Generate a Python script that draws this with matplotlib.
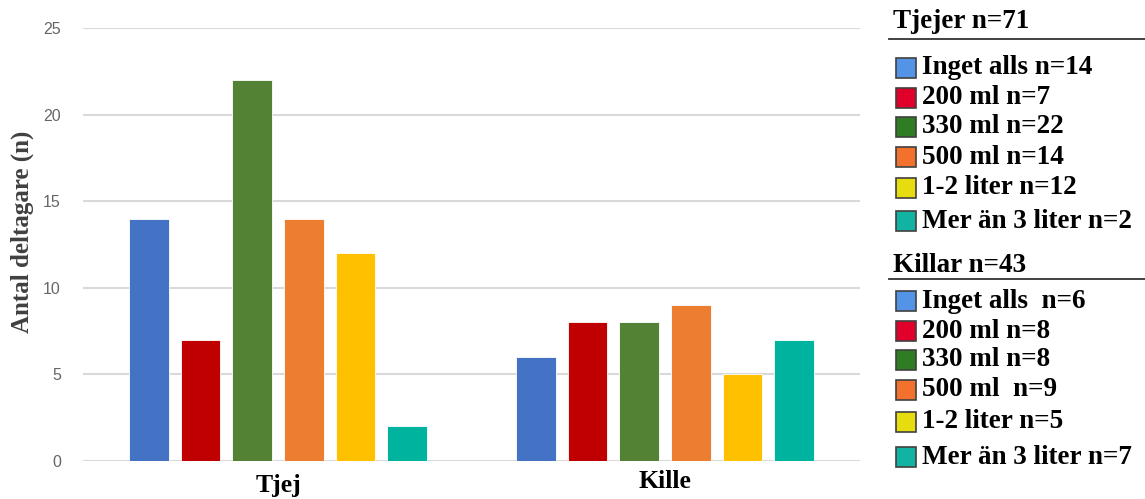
import matplotlib
matplotlib.use("Agg")
import matplotlib.pyplot as plt
from matplotlib.patches import Rectangle
from matplotlib.lines import Line2D
import numpy as np

groups = ["Tjej", "Kille"]
categories = ["Inget alls", "200 ml", "330 ml", "500 ml", "1-2 liter", "Mer än 3 liter"]
tjej_values = [14, 7, 22, 14, 12, 2]
kille_values = [6, 8, 8, 9, 5, 7]
yticks = [0, 5, 10, 15, 20, 25]

tjej_header = "Tjejer n=71"
killar_header = "Killar n=43"
tjej_legend = ["Inget alls n=14", "200 ml n=7", "330 ml n=22", "500 ml n=14",
               "1-2 liter n=12", "Mer än 3 liter n=2"]
killar_legend = ["Inget alls  n=6", "200 ml n=8", "330 ml n=8", "500 ml  n=9",
                 "1-2 liter n=5", "Mer än 3 liter n=7"]

bar_colors = ["#4472C4", "#C00000", "#548235", "#ED7D31", "#FFC000", "#00B39F"]
legend_colors = ["#5494E6", "#E0002A", "#2E7D22", "#F2712C", "#E6DC10", "#12B3A2"]

serif = "Liberation Serif"

fig = plt.figure(figsize=(11.45, 4.99), dpi=100)
ax = fig.add_axes([83 / 1145, 1 - 461 / 499, (860 - 83) / 1145, (461 - 28) / 499])

x = np.arange(len(groups))
width = 0.103
step = 0.1336
series = np.array([tjej_values, kille_values]).T
for i, vals in enumerate(series):
    offs = (i - (len(categories) - 1) / 2) * step
    ax.bar(x + offs, vals, width, color=bar_colors[i], edgecolor="white",
           linewidth=0.6, zorder=3)

ax.set_xlim(-0.504, 1.504)
ax.set_ylim(0, 25)
ax.set_yticks(yticks)
ax.yaxis.grid(True, color="#D9D9D9", linewidth=1.5, zorder=0)
for s in ax.spines.values():
    s.set_visible(False)
ax.tick_params(axis="y", length=0, pad=16, labelsize=11.5, labelcolor="#666666")
for lab in ax.get_yticklabels():
    lab.set_fontfamily("Liberation Sans")
ax.set_xticks([])

# group labels under the bars
group_drops = [9.5, 6.5]
for xi, name, drop in zip(x, groups, group_drops):
    ax.annotate(name, xy=(xi, 0), xycoords=("data", "axes fraction"),
                xytext=(0, -drop), textcoords="offset points",
                ha="center", va="top", fontfamily=serif, fontweight="bold",
                fontsize=18.5, color="black", annotation_clip=False)

fig.text(22 / 1145, 1 - 232 / 499, "Antal deltagare (n)", rotation=90,
         fontfamily=serif, fontweight="bold", fontsize=18, color="#404040",
         ha="center", va="center")

W, H = 1145.0, 499.0


def draw_block(header, labels, header_y, line_y, row_ys):
    fig.text(893 / W, 1 - header_y / H, header, fontfamily=serif, fontweight="bold",
             fontsize=19.5, va="center", ha="left", color="black")
    fig.add_artist(Line2D([889 / W, 1.0], [1 - line_y / H, 1 - line_y / H],
                          color="#333333", linewidth=1.3))
    for lab, col, yy in zip(labels, legend_colors, row_ys):
        fig.add_artist(Rectangle((896 / W, 1 - (yy + 10) / H), 20 / W, 20 / H,
                                 facecolor=col, edgecolor="#404040", linewidth=1.2))
        fig.text(922 / W, 1 - yy / H, lab, fontfamily=serif, fontweight="bold",
                 fontsize=19.5, va="center", ha="left", color="black")


draw_block(tjej_header, tjej_legend, 22, 39, [68, 98, 127, 157, 188, 221])
draw_block(killar_header, killar_legend, 266, 279, [301, 331, 360, 390, 422, 457])

fig.savefig("out.png", dpi=100)
